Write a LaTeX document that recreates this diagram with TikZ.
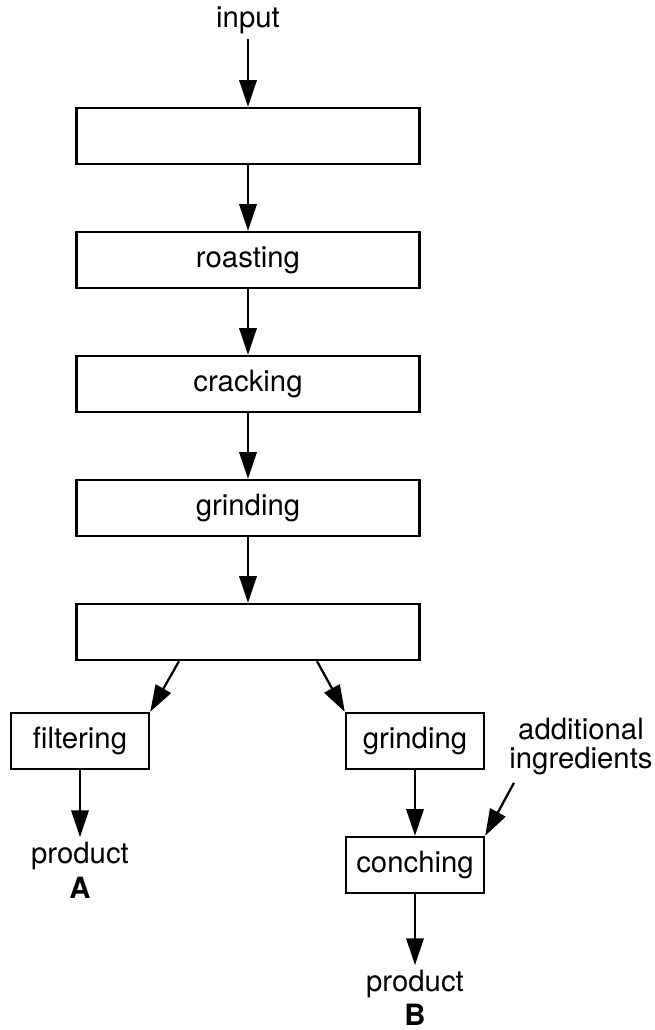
\documentclass[tikz,border=0pt]{standalone}
\usepackage{fontspec}
\setmainfont{TeX Gyre Heros}
\usetikzlibrary{arrows.meta,calc}

\tikzset{every picture/.style={line width=0.75pt}}
\tikzset{
  procbox/.style={draw, line width=1.8pt, minimum width=257pt, minimum height=42pt, inner sep=0pt},
  smallbox/.style={draw, line width=1.8pt, minimum width=103.5pt, minimum height=42pt, inner sep=0pt},
  flowarrow/.style={line width=1.7pt, -{Triangle[length=20pt,width=13pt]}},
  lbl/.style={inner sep=3pt}
}

\begin{document}
\begin{tikzpicture}[x=0.75pt,y=0.75pt,yscale=-1,xscale=1, font=\fontsize{22}{26}\selectfont]
\useasboundingbox (0,0) rectangle (654,1030);

%Text: input
\node[lbl, anchor=base] (input) at (248,28) {input};
%Shape: Rectangle [main column]
\node[procbox] (top) at (248,136) {};
\node[procbox] (roast) at (248,260) {roasting};
\node[procbox] (crack) at (248,384) {cracking};
\node[procbox] (grind) at (248,508) {grinding};
\node[procbox] (mid) at (248,632) {};
%Shape: Rectangle [branches]
\node[smallbox] (filter) at (80,741) {filtering};
\node[smallbox] (grindB) at (415,741) {grinding};
\node[smallbox] (conch) at (415,865) {conching};
%Text: products
\node[lbl, anchor=base] (prodA) at (80,863) {product};
\node[lbl, anchor=base] (labA) at (80,898) {\textbf{A}};
\node[lbl, anchor=base] (prodB) at (415,991) {product};
\node[lbl, anchor=base] (labB) at (415,1025) {\textbf{B}};
%Text: additional ingredients
\node[lbl, anchor=base] (addA) at (581,739) {additional};
\node[lbl, anchor=base] (addB) at (581,768) {ingredients};

%Straight Lines
\draw[flowarrow] (input) -- (top);
\draw[flowarrow] (top) -- (roast);
\draw[flowarrow] (roast) -- (crack);
\draw[flowarrow] (crack) -- (grind);
\draw[flowarrow] (grind) -- (mid);
\draw[flowarrow] ($(mid.south west)!0.3!(mid.south east)$) -- (filter.north east);
\draw[flowarrow] ($(mid.south west)!0.7!(mid.south east)$) -- (grindB.north west);
\draw[flowarrow] (filter) -- (prodA);
\draw[flowarrow] (grindB) -- (conch);
\draw[flowarrow] ($(addB.south west)+(9,4)$) -- (conch.north east);
\draw[flowarrow] (conch) -- (prodB);

\end{tikzpicture}
\end{document}
